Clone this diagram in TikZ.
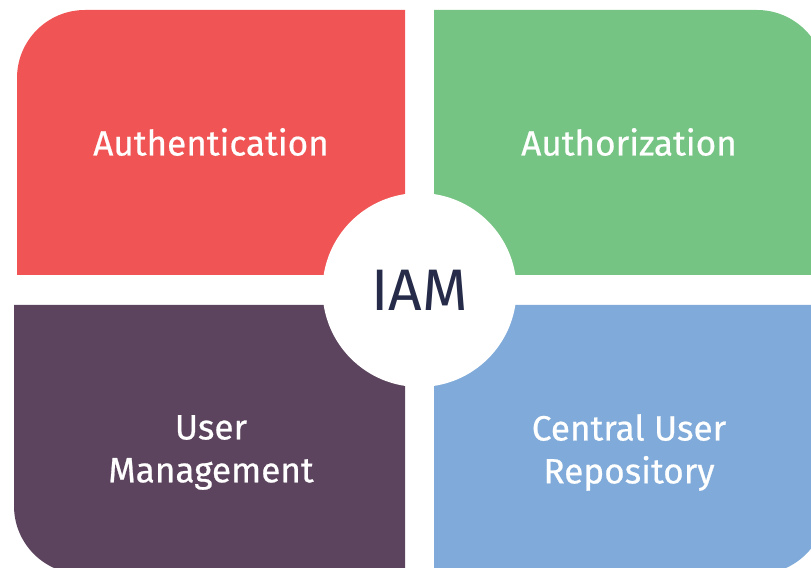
\documentclass[tikz,border=0pt]{standalone}
\usepackage{fontspec}
\setmainfont{Fira Sans}
\newfontfamily\tagfont{Fira Sans}[RawFeature={embolden=0.6}]
\usepackage{tikz}
\usetikzlibrary{calc}

\definecolor{authred}{RGB}{240,84,84}
\definecolor{authgreen}{RGB}{118,196,131}
\definecolor{userpurple}{RGB}{92,68,94}
\definecolor{repoblue}{RGB}{127,170,217}
\definecolor{iamnavy}{RGB}{37,43,72}

\begin{document}
\begin{tikzpicture}[x=0.03cm,y=0.03cm,
            quad/.style={draw=none},
            tag/.style={text=white,align=center,font=\tagfont\fontsize{30}{36.6}\selectfont},
            hub/.style={circle,fill=white,minimum size=194*0.03cm,inner sep=0pt,text=iamnavy,
            font=\fontsize{50}{60}\selectfont}
            ]
            \def\r{68}    % outer corner radius
            \def\xl{405}  % right edge of left column
            \def\xr{434}  % left edge of right column
            \def\yt{293}  % bottom edge of top row
            \def\yb{263}  % top edge of bottom row

            \useasboundingbox (0,0) rectangle (811,568);
            \clip (0,0) rectangle (811,568);

            % four quadrants, each rounded on its outer corner only
            \fill[quad,authred] (\xl,\yt) -- (17,\yt) -- (17,558-\r)
                arc[start angle=180,end angle=90,radius=\r] -- (\xl,558) -- cycle;
            \fill[quad,authgreen] (\xr,\yt) -- (\xr,558) -- (825-\r,558)
                arc[start angle=90,end angle=0,radius=\r] -- (825,\yt) -- cycle;
            \fill[quad,userpurple] (\xl,\yb) -- (14,\yb) -- (14,-6+\r)
                arc[start angle=180,end angle=270,radius=\r] -- (\xl,-6) -- cycle;
            \fill[quad,repoblue] (\xr,\yb) -- (\xr,-6) -- (826-\r,-6)
                arc[start angle=270,end angle=360,radius=\r] -- (826,\yb) -- cycle;

            \node[hub] (iam) at (419.5,278) {IAM};

            \node[tag] (authn) at (211,426) {Authentication};
            \node[tag] (authz) at (629,426) {Authorization};
            \node[tag] (users) at (211,115.5) {User\\Management};
            \node[tag] (repo)  at (629,115.5) {Central User\\Repository};
        \end{tikzpicture}
\end{document}
